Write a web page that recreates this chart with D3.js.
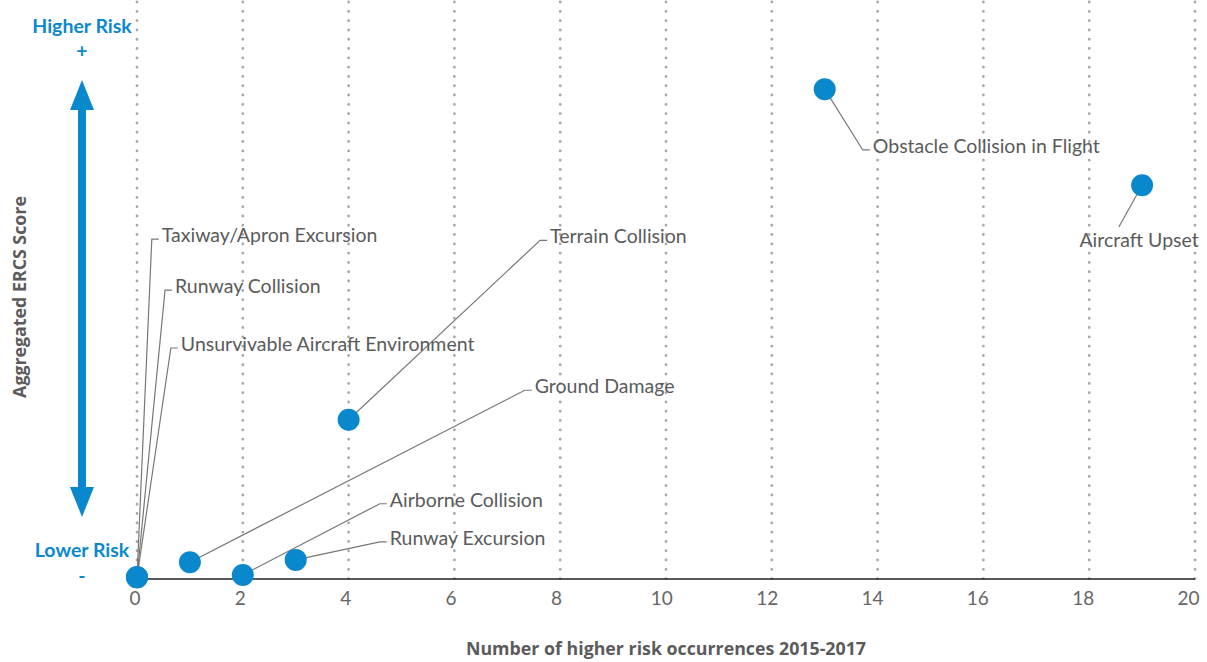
<!DOCTYPE html>
<html>
<head>
<meta charset="utf-8">
<script src="https://cdn.jsdelivr.net/npm/d3@7"></script>
<style>
  body { margin: 0; background: #fff; }
  text { font-family: Lato, "Open Sans", sans-serif; }
</style>
</head>
<body>
<script>
// occurrence categories
const categories = [
  "Taxiway/Apron Excursion", "Runway Collision", "Unsurvivable Aircraft Environment",
  "Ground Damage", "Airborne Collision", "Runway Excursion", "Terrain Collision",
  "Obstacle Collision in Flight", "Aircraft Upset"
];
// number of higher risk occurrences 2015-2017
const occurrences = [0, 0, 0, 1, 2, 3, 4, 13, 19];
// aggregated ERCS score (relative)
const ercsScore = [0.3, 0.3, 0.3, 2.9, 0.7, 3.3, 27.5, 84.6, 68.0];
// elbow of each leader line, in data units [occurrences, score]
const labelElbow = [
  [0.28, 58.7], [0.53, 49.9], [0.64, 39.9],
  [7.33, 32.6], [4.59, 13.0], [4.59, 6.4], [7.62, 58.5],
  [13.72, 74.1], [18.56, 60.8]
];
const xTicks = d3.range(0, 21, 2);

const width = 1207, height = 662;
const blue = "#0a88cd", grey = "#5b5b5b";

const svg = d3.select("body").append("svg")
  .attr("width", width).attr("height", height);

const x = d3.scaleLinear().domain([0, 20]).range([137, 1195]);
const y = d3.scaleLinear().domain([0, 100]).range([579, 0]);

// dotted vertical grid
svg.append("g").selectAll("line").data(xTicks).join("line")
  .attr("x1", d => x(d)).attr("x2", d => x(d))
  .attr("y1", 2).attr("y2", y(0))
  .attr("stroke", "#a8a8a8").attr("stroke-width", 2.8)
  .attr("stroke-linecap", "round")
  .attr("stroke-dasharray", "0.1 9.2");

// baseline
svg.append("line")
  .attr("x1", x(0)).attr("x2", x(20))
  .attr("y1", y(0)).attr("y2", y(0))
  .attr("stroke", "#222").attr("stroke-width", 1.5);

// tick labels
svg.append("g").selectAll("text").data(xTicks).join("text")
  .attr("x", d => x(d) - 2 - d * 0.22).attr("y", 605)
  .attr("text-anchor", "middle")
  .attr("font-size", 19).attr("fill", "#666")
  .text(d => d);

const pts = categories.map((c, i) => ({
  name: c, x: occurrences[i], y: ercsScore[i], elbow: labelElbow[i]
}));

// leader lines
const leaders = svg.append("g")
  .attr("fill", "none").attr("stroke", "#777").attr("stroke-width", 1.2);
pts.forEach(p => {
  const ex = x(p.elbow[0]), ey = y(p.elbow[1]);
  const pts2 = [[x(p.x), y(p.y)], [ex, ey]];
  if (p.name !== "Aircraft Upset") pts2.push([ex + 7, ey]);
  leaders.append("path").attr("d", d3.line()(pts2));
});

// labels
svg.append("g").selectAll("text").data(pts).join("text")
  .attr("x", p => p.name === "Aircraft Upset" ? x(p.x) - 3 : x(p.elbow[0]) + 10)
  .attr("y", p => y(p.elbow[1]) + (p.name === "Aircraft Upset" ? 20 : 3))
  .attr("text-anchor", p => p.name === "Aircraft Upset" ? "middle" : "start")
  .attr("font-size", 19.5).attr("fill", grey)
  .text(p => p.name);

// points
svg.append("g").selectAll("circle").data(pts).join("circle")
  .attr("cx", p => x(p.x)).attr("cy", p => y(p.y))
  .attr("r", 11).attr("fill", blue);

// risk arrow
const ax = 82;
svg.append("path")
  .attr("d", `M${ax},80 L${ax + 12},110 L${ax + 4},110 L${ax + 4},487 L${ax + 12},487 L${ax},517 L${ax - 12},487 L${ax - 4},487 L${ax - 4},110 L${ax - 12},110 Z`)
  .attr("fill", blue);

const riskText = [["Higher Risk", 33], ["+", 58], ["Lower Risk", 557], ["-", 583]];
svg.append("g").selectAll("text").data(riskText).join("text")
  .attr("x", ax).attr("y", d => d[1])
  .attr("text-anchor", "middle")
  .attr("font-size", 19.5).attr("font-weight", "bold").attr("fill", blue)
  .text(d => d[0]);

// axis titles
svg.append("text")
  .attr("x", 666).attr("y", 655)
  .attr("text-anchor", "middle")
  .style("font-family", "'Open Sans', sans-serif")
  .attr("font-size", 17.8).attr("font-weight", "bold").attr("fill", grey)
  .text("Number of higher risk occurrences 2015-2017");

svg.append("text")
  .attr("transform", "translate(26,297) rotate(-90)")
  .attr("text-anchor", "middle")
  .style("font-family", "'Open Sans', sans-serif")
  .attr("font-size", 17.8).attr("font-weight", "bold").attr("fill", grey)
  .text("Aggregated ERCS Score");
</script>
</body>
</html>
